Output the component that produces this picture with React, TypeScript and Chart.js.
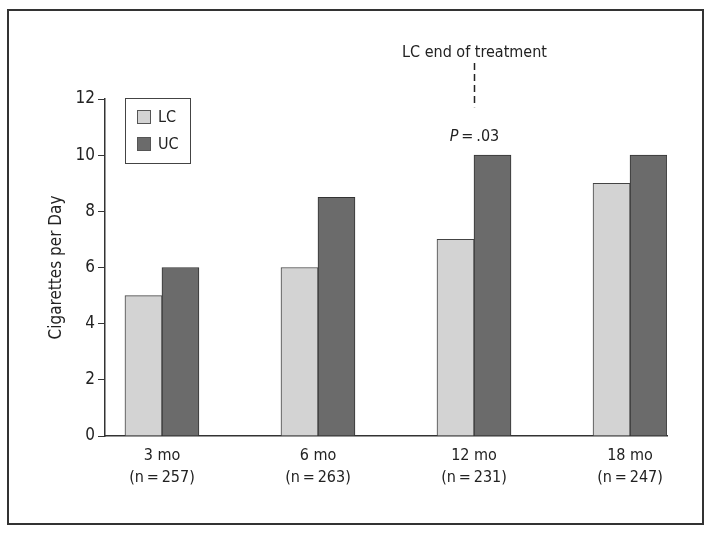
import React, { useEffect, useRef } from "react";
import { Chart, registerables } from "chart.js";

Chart.register(...registerables);

const categories = ["3 mo", "6 mo", "12 mo", "18 mo"];
const sampleSizes = ["(n\u2009=\u2009257)", "(n\u2009=\u2009263)", "(n\u2009=\u2009231)", "(n\u2009=\u2009247)"];
const seriesNames = ["LC", "UC"];
const lcValues = [5, 6, 7, 9];
const ucValues = [6, 8.5, 10, 10];
const yTickStep = 2;
const yMax = 12;
const annotationText = "LC end of treatment";
const annotationCategory = 2;
const pValueLabel = ".03";

const FONT = "'Liberation Sans Narrow', 'Arial Narrow', 'DejaVu Sans Condensed', sans-serif";
const TEXT = "#222";
const LC_COLOR = "#d3d3d3";
const UC_COLOR = "#6b6b6b";
const EDGE = "#333";

const decorPlugin = {
  id: "decor",
  afterDraw(chart: any) {
    const { ctx, chartArea, scales } = chart;
    const xs = scales.x;
    const ys = scales.y;
    ctx.save();
    // outer frame
    ctx.strokeStyle = EDGE;
    ctx.lineWidth = 2;
    ctx.strokeRect(8, 10, 695, 514);

    // legend
    const lx = chartArea.left + 20;
    const ly = chartArea.top - 1;
    ctx.lineWidth = 1;
    ctx.strokeStyle = "#444";
    ctx.strokeRect(lx + 0.5, ly + 0.5, 65, 65);
    const colors = [LC_COLOR, UC_COLOR];
    ctx.font = `16px ${FONT}`;
    ctx.textBaseline = "middle";
    ctx.textAlign = "left";
    seriesNames.forEach((name, i) => {
      const sy = ly + 12 + i * 27;
      ctx.fillStyle = colors[i];
      ctx.fillRect(lx + 12, sy, 14, 14);
      ctx.strokeStyle = "#555";
      ctx.strokeRect(lx + 12.5, sy + 0.5, 13, 13);
      ctx.fillStyle = TEXT;
      ctx.fillText(name, lx + 33, sy + 7.5);
    });

    // annotation
    const ax = Math.round(xs.getPixelForValue(annotationCategory)) + 0.5;
    ctx.font = `16px ${FONT}`;
    ctx.textAlign = "center";
    ctx.fillStyle = TEXT;
    ctx.fillText(annotationText, ax, ys.getPixelForValue(13.64));
    ctx.setLineDash([7, 4]);
    ctx.strokeStyle = "#222";
    ctx.lineWidth = 1.5;
    ctx.beginPath();
    ctx.moveTo(ax, ys.getPixelForValue(13.28));
    ctx.lineTo(ax, ys.getPixelForValue(11.71));
    ctx.stroke();
    ctx.setLineDash([]);

    // P value
    const py = ys.getPixelForValue(10.65);
    ctx.font = `italic 16px ${FONT}`;
    const pW = ctx.measureText("P").width;
    ctx.font = `16px ${FONT}`;
    const rest = "\u2009=\u2009" + pValueLabel;
    const rW = ctx.measureText(rest).width;
    const start = ax - (pW + rW) / 2;
    ctx.textAlign = "left";
    ctx.font = `italic 16px ${FONT}`;
    ctx.fillText("P", start, py);
    ctx.font = `16px ${FONT}`;
    ctx.fillText(rest, start + pW, py);
    ctx.restore();
  },
};

export default function App() {
  const ref = useRef<HTMLCanvasElement>(null);
  useEffect(() => {
    const chart = new Chart(ref.current!, {
      type: "bar",
      data: {
        datasets: [
          {
            label: seriesNames[0],
            data: lcValues.map((v, i) => ({ x: i, y: v })),
            backgroundColor: LC_COLOR,
            borderColor: "#444",
            borderWidth: 1,
            barThickness: 37,
          },
          {
            label: seriesNames[1],
            data: ucValues.map((v, i) => ({ x: i, y: v })),
            backgroundColor: UC_COLOR,
            borderColor: "#333",
            borderWidth: 1,
            barThickness: 37,
          },
        ],
      },
      options: {
        responsive: false,
        animation: false,
        devicePixelRatio: 1,
        layout: { padding: { left: 0, right: 47, top: 99, bottom: 0 } },
        plugins: { legend: { display: false }, tooltip: { enabled: false } },
        scales: {
          x: {
            type: "linear",
            offset: false,
            min: -0.365,
            max: 3.237,
            afterBuildTicks: (s: any) => {
              s.ticks = categories.map((_, i) => ({ value: i }));
            },
            afterFit: (s: any) => {
              s.height = 98;
            },
            ticks: {
              autoSkip: false,
              maxRotation: 0,
              padding: 9,
              color: TEXT,
              font: { family: FONT, size: 16, lineHeight: 1.35 },
              callback: (_v: any, i: number) => [categories[i], sampleSizes[i]],
            },
            grid: { display: false, drawTicks: false, offset: false },
            border: { display: true, color: EDGE, width: 1.5 },
          },
          y: {
            min: 0,
            max: yMax,
            afterFit: (s: any) => {
              s.width = 105;
            },
            ticks: {
              stepSize: yTickStep,
              padding: 3,
              color: TEXT,
              font: { family: FONT, size: 17 },
            },
            grid: { drawOnChartArea: false, tickLength: 7, color: EDGE, lineWidth: 1 },
            border: { display: true, color: EDGE, width: 1.5 },
            title: {
              display: true,
              text: "Cigarettes per Day",
              color: TEXT,
              font: { family: FONT, size: 17 },
              padding: { top: 46, bottom: 0 },
            },
          },
        },
      },
      plugins: [decorPlugin],
    } as any);
    return () => chart.destroy();
  }, []);
  return (
    <div style={{ position: "fixed", left: 0, top: 0, width: 714, height: 534, background: "#fff" }}>
      <canvas ref={ref} width={714} height={534} style={{ display: "block", width: 714, height: 534 }} />
    </div>
  );
}
